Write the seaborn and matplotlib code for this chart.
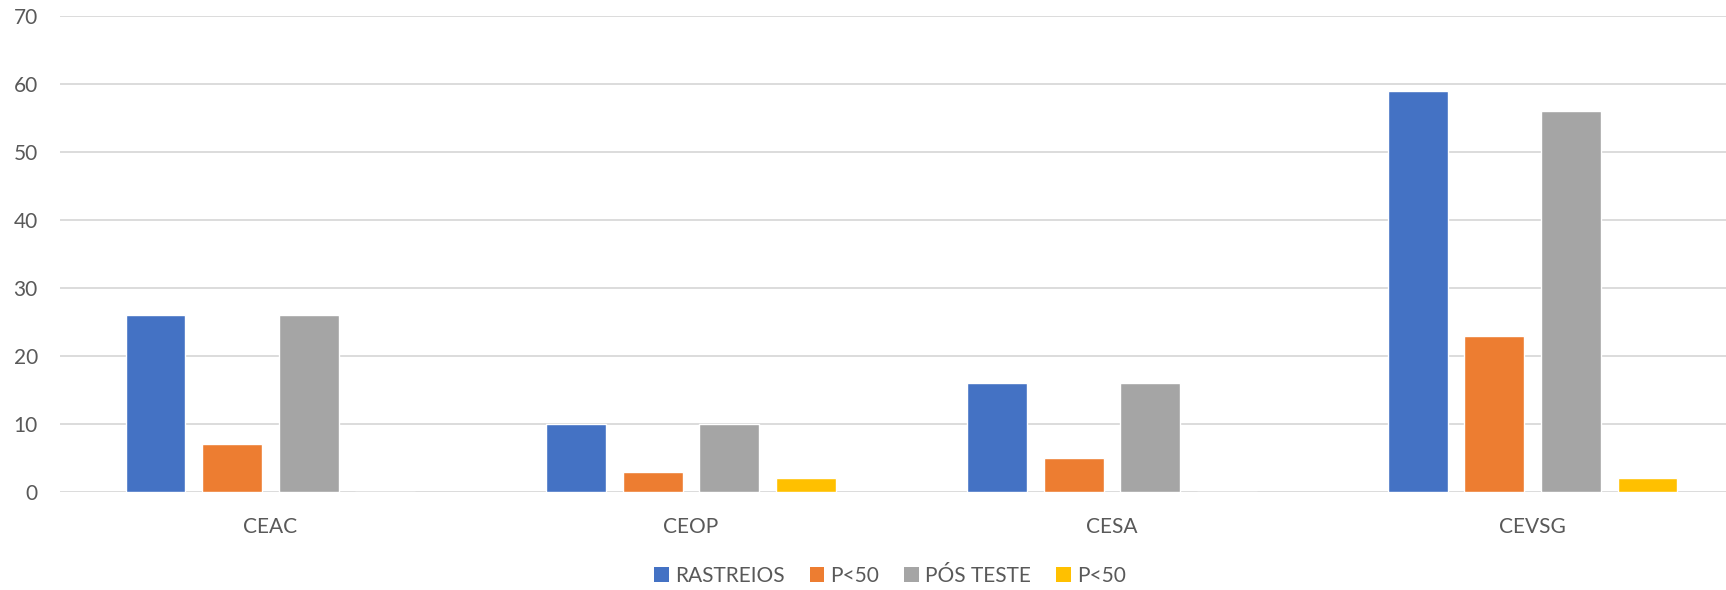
import pandas as pd
import matplotlib.pyplot as plt
import seaborn as sns
from matplotlib.patches import Patch

categories = ["CEAC", "CEOP", "CESA", "CEVSG"]
rastreios = [26, 10, 16, 59]
p50_a = [7, 3, 5, 23]
pos_teste = [26, 10, 16, 56]
p50_b = [0, 2, 0, 2]

series_keys = ["s1", "s2", "s3", "s4"]
series_labels = ["RASTREIOS", "P<50", "PÓS TESTE", "P<50"]
colors = ["#4472C4", "#ED7D31", "#A5A5A5", "#FFC000"]

df = pd.DataFrame({
    "cat": categories * 4,
    "serie": sum([[k] * 4 for k in series_keys], []),
    "valor": rastreios + p50_a + pos_teste + p50_b,
})

sns.set_theme(style="white")
plt.rcParams["font.family"] = ["Lato", "DejaVu Sans"]
text_color = "#595959"

fig = plt.figure(figsize=(17.26, 5.90), dpi=100)
ax = fig.add_axes([60 / 1726, 98 / 590, 1683 / 1726, 476 / 590])

sns.barplot(data=df, x="cat", y="valor", hue="serie", hue_order=series_keys,
            palette=colors, width=0.728, gap=0.217, saturation=1,
            legend=False, ax=ax, errorbar=None)

ax.set_ylim(0, 70)
ax.set_yticks(range(0, 71, 10))
ax.set_xlim(-0.5, 3.5)
ax.grid(axis="y", color="#D9D9D9", linewidth=1.3)
ax.set_axisbelow(True)
for s in ax.spines.values():
    s.set_visible(False)
ax.set_xlabel("")
ax.set_ylabel("")
ax.tick_params(axis="y", length=0, pad=16, labelsize=15, labelcolor=text_color)
ax.tick_params(axis="x", length=0, pad=18, labelsize=15, labelcolor=text_color)

handles = [Patch(facecolor=c, edgecolor="none") for c in colors]
fig.legend(handles, series_labels, loc="center", bbox_to_anchor=(890 / 1726, 14 / 590),
           ncol=4, frameon=False, fontsize=15, labelcolor=text_color,
           handlelength=0.7, handleheight=0.7, handletextpad=0.3, columnspacing=1.2)

fig.savefig("out.png", dpi=100)
